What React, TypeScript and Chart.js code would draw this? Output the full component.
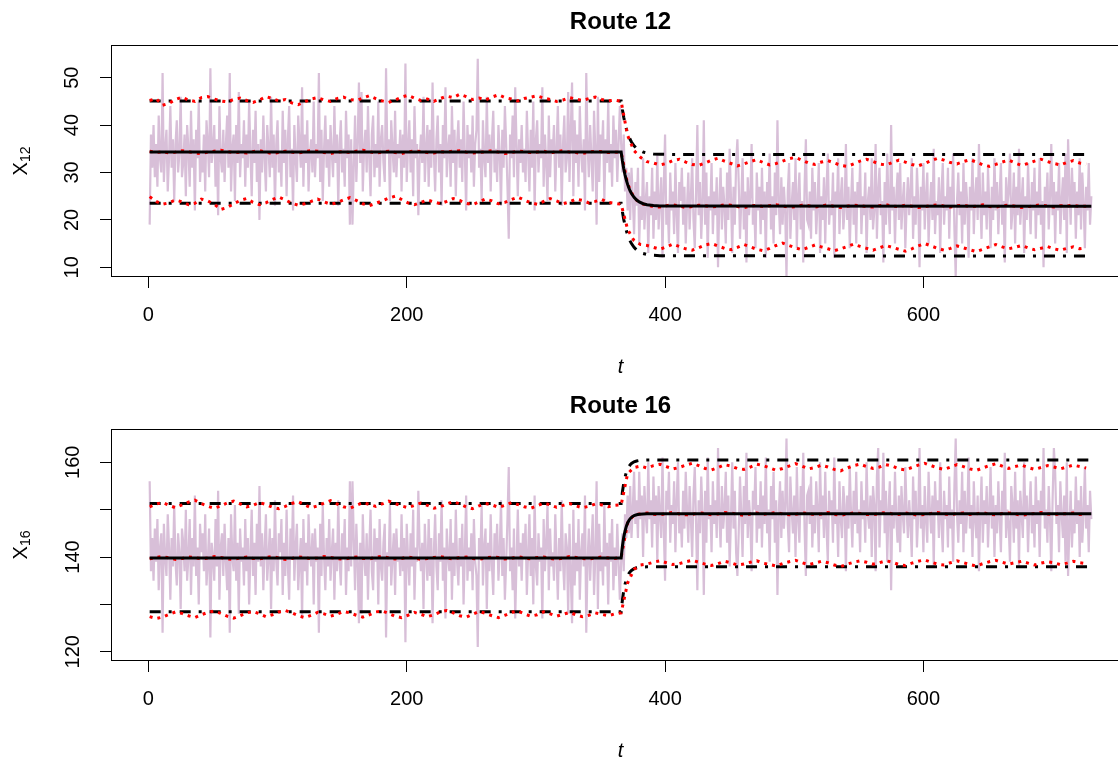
import React, { useEffect, useRef } from "react";
import { Chart, registerables } from "chart.js";

Chart.register(...registerables);

// ---------- axis / category data ----------
const days = Array.from({ length: 730 }, (_, i) => i + 1);
const sampleDays = Array.from({ length: 146 }, (_, i) => 1 + 5 * i);
const fitDays = [1, 366, 367, 368, 369, 370, 371, 372, 373, 374, 376, 378, 380, 383, 386, 391, 396, 406, 730];
const xTicks = [0, 200, 400, 600];
const route12YTicks = [10, 20, 30, 40, 50];
const route12YLabels = ["10", "20", "30", "40", "50"];
const route16YTicks = [120, 130, 140, 150, 160];
const route16YLabels = ["120", "", "140", "", "160"];

// ---------- Route 12 observations (t = 1..730) ----------
const route12Obs = [
  19, 38, 31, 40, 29, 36, 27, 42, 33, 30,
  51, 28, 35, 39, 26, 33, 44, 31, 37, 24,
  36, 41, 30, 34, 46, 29, 32, 38, 25, 40,
  35, 27, 43, 31, 37, 22, 39, 33, 45, 28,
  34, 30, 38, 26, 41, 36, 29, 52, 32, 35,
  40, 27, 37, 21, 44, 33, 30, 39, 28, 36,
  42, 31, 51, 26, 35, 38, 24, 40, 32, 47,
  29, 36, 33, 41, 27, 38, 31, 45, 34, 25,
  39, 32, 43, 28, 36, 20, 37, 30, 42, 33,
  26, 40, 35, 29, 46, 31, 38, 23, 36, 41,
  30, 34, 27, 43, 32, 39, 25, 37, 44, 29,
  35, 22, 40, 33, 28, 42, 36, 31, 48, 27,
  38, 32, 41, 26, 34, 37, 30, 45, 29, 36,
  33, 51, 28, 39, 24, 35, 42, 31, 37, 27,
  40, 34, 29, 44, 32, 38, 23, 36, 41, 30,
  35, 27, 43, 33, 38, 19, 37, 19, 31, 42,
  28, 36, 49, 32, 47, 26, 35, 39, 30, 44,
  33, 25, 38, 42, 29, 36, 31, 45, 27, 37,
  40, 32, 28, 52, 34, 37, 24, 41, 35, 30,
  43, 29, 36, 33, 39, 26, 38, 31, 53, 28,
  35, 41, 30, 37, 25, 44, 33, 36, 21, 33,
  38, 32, 46, 28, 35, 40, 27, 39, 31, 49,
  34, 26, 37, 42, 30, 36, 23, 40, 33, 48,
  29, 35, 38, 27, 44, 32, 39, 25, 36, 41,
  31, 37, 28, 45, 34, 22, 40, 33, 38, 30,
  42, 27, 36, 39, 54, 31, 35, 24, 41, 33,
  29, 46, 32, 38, 26, 37, 43, 30, 35, 28,
  40, 34, 23, 39, 31, 44, 36, 27, 16, 38,
  33, 42, 29, 48, 36, 25, 37, 32, 40, 30,
  35, 28, 43, 34, 26, 39, 31, 45, 22, 37,
  41, 30, 36, 33, 48, 27, 38, 32, 24, 42,
  29, 37, 34, 40, 26, 35, 44, 31, 38, 23,
  36, 42, 30, 33, 47, 28, 39, 49, 25, 41,
  32, 38, 27, 44, 34, 30, 37, 22, 51, 36,
  29, 40, 33, 26, 43, 35, 19, 46, 28, 38,
  34, 41, 24, 37, 32, 45, 30, 36, 27, 42,
  33, 39, 28, 36, 44,
  36, 30, 38, 26, 31, 22, 30, 20, 31, 25,
  17, 28, 23, 31, 15, 25, 20, 33, 18, 24,
  28, 13, 25, 21, 31, 16, 26, 20, 34, 18,
  24, 29, 12, 27, 38, 19, 23, 15, 30, 22,
  26, 17, 32, 21, 13, 28, 24, 31, 19, 27,
  15, 23, 30, 18, 25, 33, 20, 14, 26, 40,
  21, 28, 16, 24, 41, 19, 30, 12, 25, 22,
  32, 17, 26, 21, 29, 10, 24, 31, 18, 27,
  23, 15, 30, 20, 35, 25, 13, 27, 19, 32,
  37, 28, 16, 24, 33, 18, 26, 11, 29, 21,
  25, 36, 19, 23, 14, 30, 22, 27, 17, 31,
  20, 26, 12, 28, 23, 34, 18, 25, 15, 30,
  21, 41, 24, 17, 29, 19, 27, 22, 8, 26,
  32, 16, 23, 28, 20, 33, 14, 25, 30, 18,
  24, 11, 27, 37, 20, 19, 26, 16, 31, 22,
  28, 17, 23, 32, 13, 25, 20, 29, 15, 27,
  34, 19, 24, 21, 30, 12, 26, 23, 33, 17,
  25, 29, 18, 22, 36, 20, 27, 14, 24, 31,
  19, 26, 15, 28, 23, 32, 17, 25, 21, 30,
  13, 24, 27, 20, 33, 18, 22, 36, 16, 26,
  31, 21, 24, 11, 28, 19, 34, 23, 17, 40,
  22, 27, 15, 25, 30, 20, 32, 18, 24, 28,
  14, 23, 29, 21, 26, 33, 16, 25, 19, 31,
  24, 10, 27, 22, 32, 18, 25, 30, 15, 23,
  28, 20, 35, 17, 24, 21, 29, 13, 26, 32,
  19, 25, 22, 31, 16, 27, 23, 34, 18, 8,
  24, 30, 21, 26, 15, 32, 19, 28, 23, 12,
  27, 22, 33, 17, 25, 29, 20, 36, 24, 16,
  30, 21, 26, 18, 31, 23, 14, 27, 20, 33,
  22, 28, 17, 25, 32, 19, 24, 11, 29, 23,
  26, 34, 18, 22, 30, 15, 27, 21, 35, 19,
  24, 29, 13, 25, 20, 32, 23, 17, 28, 22,
  31, 16, 26, 21, 33, 19, 24, 10, 27, 23,
  30, 18, 25, 36, 21, 28, 15, 26, 22, 32,
  17, 24, 29, 20, 34, 13, 37, 27, 19, 31,
  23, 28, 16, 26, 21, 33, 18, 30, 24, 14,
  27, 22, 32, 19, 25,
];

// ---------- Route 16 observations (t = 1..730) ----------
const route16Obs = [
  156, 137, 144, 135, 146, 139, 148, 133, 142, 145,
  124, 147, 140, 136, 149, 142, 131, 144, 138, 151,
  139, 134, 145, 141, 129, 146, 143, 137, 150, 135,
  140, 148, 132, 144, 138, 153, 136, 142, 130, 147,
  141, 145, 137, 149, 134, 139, 146, 123, 143, 140,
  135, 148, 138, 154, 131, 142, 145, 136, 147, 139,
  133, 144, 124, 149, 140, 137, 151, 135, 143, 128,
  146, 139, 142, 134, 148, 137, 144, 130, 141, 150,
  136, 143, 132, 147, 139, 155, 138, 145, 133, 142,
  149, 135, 140, 146, 129, 144, 137, 152, 139, 134,
  145, 141, 148, 132, 143, 136, 150, 138, 131, 146,
  140, 153, 135, 142, 147, 133, 139, 144, 127, 148,
  137, 143, 134, 149, 141, 138, 145, 130, 146, 139,
  142, 124, 147, 136, 151, 140, 133, 144, 138, 148,
  135, 141, 146, 131, 143, 137, 152, 139, 134, 145,
  140, 148, 132, 142, 137, 156, 138, 156, 144, 133,
  147, 139, 126, 143, 128, 149, 140, 136, 145, 131,
  142, 150, 137, 133, 146, 139, 144, 130, 148, 138,
  135, 143, 147, 123, 141, 138, 151, 134, 140, 145,
  132, 146, 139, 142, 136, 149, 137, 144, 122, 147,
  140, 134, 145, 138, 150, 131, 142, 139, 154, 142,
  137, 143, 129, 147, 140, 135, 148, 136, 144, 126,
  141, 149, 138, 133, 145, 139, 152, 135, 142, 127,
  146, 140, 137, 148, 131, 143, 136, 150, 139, 134,
  144, 138, 147, 130, 141, 153, 135, 142, 137, 145,
  133, 148, 139, 136, 121, 144, 140, 151, 134, 142,
  146, 129, 143, 137, 149, 138, 132, 145, 140, 147,
  135, 141, 152, 136, 144, 131, 139, 148, 159, 137,
  142, 133, 146, 127, 139, 150, 138, 143, 135, 145,
  140, 147, 132, 141, 149, 136, 144, 130, 153, 138,
  134, 145, 139, 142, 127, 148, 137, 143, 151, 133,
  146, 138, 141, 135, 149, 140, 131, 144, 137, 152,
  139, 133, 145, 142, 128, 147, 136, 126, 150, 134,
  143, 137, 148, 131, 141, 145, 138, 153, 124, 139,
  146, 135, 142, 149, 132, 140, 156, 129, 147, 137,
  141, 134, 151, 138, 143, 130, 145, 139, 148, 133,
  142, 136, 147, 139, 131,
  139, 145, 137, 149, 144, 153, 145, 155, 144, 150,
  158, 147, 152, 144, 158, 148, 153, 140, 155, 149,
  145, 160, 148, 152, 142, 157, 147, 153, 139, 155,
  149, 144, 161, 146, 135, 154, 150, 158, 143, 151,
  147, 156, 141, 152, 160, 145, 149, 142, 154, 146,
  158, 150, 143, 155, 148, 140, 153, 159, 147, 133,
  152, 145, 157, 149, 132, 154, 143, 161, 148, 151,
  141, 156, 147, 152, 144, 163, 149, 142, 155, 146,
  150, 158, 143, 153, 138, 148, 160, 146, 154, 141,
  136, 145, 157, 149, 140, 155, 147, 162, 144, 152,
  148, 137, 154, 150, 159, 143, 151, 146, 156, 142,
  153, 147, 161, 145, 150, 139, 155, 148, 158, 143,
  152, 132, 149, 156, 144, 154, 146, 151, 165, 147,
  141, 157, 150, 145, 153, 140, 159, 148, 143, 155,
  149, 162, 146, 136, 153, 154, 147, 157, 142, 151,
  145, 156, 150, 141, 160, 148, 153, 144, 158, 146,
  139, 154, 149, 152, 143, 161, 147, 150, 140, 156,
  148, 144, 155, 151, 137, 153, 146, 159, 149, 142,
  154, 147, 158, 145, 150, 141, 156, 148, 152, 143,
  160, 149, 146, 153, 140, 155, 151, 137, 157, 163,
  142, 152, 149, 162, 145, 154, 139, 150, 156, 133,
  151, 146, 158, 148, 143, 153, 141, 155, 149, 145,
  159, 150, 144, 152, 147, 140, 157, 148, 154, 142,
  149, 163, 146, 151, 141, 155, 148, 143, 158, 150,
  145, 153, 138, 156, 149, 152, 144, 160, 147, 141,
  154, 148, 151, 142, 157, 146, 150, 139, 155, 165,
  149, 143, 152, 147, 158, 141, 154, 145, 150, 161,
  146, 151, 140, 156, 148, 144, 153, 137, 149, 157,
  143, 152, 147, 155, 142, 150, 159, 146, 153, 140,
  151, 145, 156, 148, 141, 154, 149, 162, 144, 150,
  147, 139, 155, 151, 143, 158, 146, 152, 138, 154,
  149, 144, 160, 148, 153, 141, 150, 156, 145, 151,
  142, 157, 147, 152, 140, 154, 149, 163, 146, 150,
  143, 155, 148, 137, 152, 163, 158, 147, 151, 141,
  156, 149, 144, 153, 139, 160, 136, 146, 154, 142,
  150, 145, 157, 147, 152, 140, 155, 143, 149, 159,
  146, 151, 141, 154, 148,
];

// ---------- fitted mean and bounds (black) ----------
const route12FitMean = [34.3, 34.3, 32.41, 30.82, 29.51, 28.41, 27.49, 26.73, 26.09, 25.57, 24.75, 24.19, 23.79, 23.41, 23.2, 23.02, 22.95, 22.91, 22.9];
const route12FitUpper = [45.1, 45.1, 43.22, 41.65, 40.35, 39.26, 38.35, 37.6, 36.96, 36.44, 35.63, 35.08, 34.68, 34.31, 34.09, 33.92, 33.85, 33.81, 33.8];
const route12FitLower = [23.5, 23.5, 21.66, 20.11, 18.84, 17.76, 16.87, 16.13, 15.51, 15.0, 14.2, 13.65, 13.27, 12.9, 12.69, 12.52, 12.45, 12.41, 12.4];
const route16FitMean = [139.8, 139.8, 142.31, 144.15, 145.48, 146.47, 147.19, 147.72, 148.1, 148.38, 148.74, 148.93, 149.03, 149.1, 149.13, 149.15, 149.15, 149.15, 149.15];
const route16FitUpper = [151.3, 151.3, 153.77, 155.58, 156.89, 157.86, 158.57, 159.09, 159.47, 159.75, 160.1, 160.28, 160.39, 160.45, 160.48, 160.5, 160.5, 160.5, 160.5];
const route16FitLower = [128.45, 128.45, 131.0, 132.87, 134.23, 135.22, 135.95, 136.5, 136.89, 137.17, 137.53, 137.73, 137.83, 137.9, 137.93, 137.95, 137.95, 137.95, 137.95];

// ---------- empirical quantiles / mean (red, every 5 days) ----------
const route12RedUpper = [
  45.2, 45.6, 44.2, 44.6, 45.4, 45.9, 45.3, 45.0, 45.8, 46.0,
  45.5, 45.1, 44.9, 45.4, 45.7, 45.2, 44.8, 45.3, 46.0, 45.6,
  45.1, 45.4, 44.7, 44.3, 44.9, 45.5, 45.8, 45.3, 45.0, 45.6,
  45.9, 45.4, 45.2, 45.7, 46.2, 45.6, 45.1, 44.8, 45.3, 45.9,
  46.3, 45.7, 45.2, 45.5, 45.0, 45.6, 46.1, 45.8, 46.5, 46.0,
  45.4, 45.7, 45.3, 45.9, 46.4, 45.8, 45.5, 45.1, 45.6, 45.9,
  46.2, 45.7, 45.4, 45.0, 45.3, 45.8, 45.5, 45.2, 45.6, 45.9,
  45.4, 45.1, 45.3,
  45.0, 37.8, 34.6, 33.2,
  32.3, 32.0, 31.6, 31.9, 32.5, 32.8, 32.2, 31.7, 31.5, 32.0,
  32.6, 33.0, 32.4, 31.9, 31.4, 31.8, 32.3, 32.7, 32.1, 31.6,
  31.9, 32.4, 32.9, 33.2, 32.6, 32.0, 31.7, 32.2, 32.5, 32.0,
  31.5, 31.3, 31.8, 32.4, 32.8, 32.3, 31.8, 31.6, 32.1, 32.6,
  32.2, 31.7, 31.4, 31.9, 32.5, 33.0, 32.6, 32.1, 31.8, 32.3,
  32.7, 32.2, 31.6, 31.3, 31.7, 32.2, 32.6, 32.0, 31.5, 31.9,
  32.4, 32.8, 32.3, 31.9, 31.6, 32.1, 32.5, 32.0, 31.8,
];
const route12RedMean = [
  34.5, 34.2, 34.4, 34.1, 34.3, 34.6, 34.4, 34.1, 34.0, 34.3,
  34.5, 34.7, 34.4, 34.2, 34.3, 34.1, 34.4, 34.6, 34.3, 34.0,
  34.2, 34.5, 34.3, 34.1, 34.4, 34.6, 34.5, 34.2, 34.0, 34.3,
  34.4, 34.2, 34.5, 34.7, 34.4, 34.1, 34.3, 34.5, 34.2, 34.0,
  34.3, 34.6, 34.4, 34.2, 34.1, 34.4, 34.3, 34.5, 34.6, 34.3,
  34.1, 34.2, 34.4, 34.6, 34.3, 34.0, 34.2, 34.5, 34.4, 34.2,
  34.3, 34.5, 34.1, 34.4, 34.6, 34.3, 34.2, 34.0, 34.3, 34.5,
  34.4, 34.2, 34.3,
  34.2, 27.6, 24.6, 23.5,
  23.1, 22.8, 22.7, 23.0, 23.2, 22.9, 22.6, 22.8, 23.1, 23.0,
  22.7, 22.9, 23.2, 23.1, 22.8, 22.6, 22.9, 23.1, 22.8, 23.0,
  23.2, 22.9, 22.7, 22.8, 23.1, 23.0, 22.7, 22.9, 23.2, 22.8,
  22.6, 22.9, 23.1, 23.0, 22.8, 22.7, 23.0, 23.2, 22.9, 22.8,
  23.1, 22.9, 22.6, 22.8, 23.0, 23.2, 22.9, 22.7, 23.0, 23.1,
  22.8, 22.9, 23.2, 22.8, 22.7, 23.0, 23.1, 22.9, 22.6, 22.8,
  23.0, 23.2, 22.9, 22.7, 23.0, 22.9, 23.1, 22.8, 22.9,
];
const route12RedLower = [
  24.9, 23.9, 23.3, 23.6, 24.2, 23.8, 23.2, 23.5, 24.4, 24.0,
  23.3, 22.2, 22.6, 23.4, 24.1, 24.5, 23.7, 23.2, 23.6, 24.3,
  24.8, 24.2, 23.5, 23.1, 23.4, 23.9, 24.4, 23.8, 23.3, 23.6,
  24.2, 24.7, 24.1, 23.4, 23.0, 23.5, 24.0, 24.6, 25.0, 24.3,
  23.6, 23.2, 23.7, 24.2, 23.8, 23.4, 23.9, 24.5, 24.1, 23.5,
  23.2, 23.8, 24.4, 24.0, 23.4, 23.7, 24.3, 24.8, 24.2, 23.6,
  23.3, 23.9, 24.5, 24.0, 23.4, 23.8, 24.4, 24.1, 23.6, 23.9,
  24.3, 23.7, 23.5,
  23.3, 18.0, 15.6, 14.8,
  14.6, 14.2, 13.8, 14.3, 14.9, 14.4, 13.9, 13.6, 14.1, 14.7,
  15.0, 14.5, 14.0, 13.7, 14.2, 14.8, 14.3, 13.8, 13.5, 14.0,
  14.6, 15.1, 14.6, 14.1, 13.7, 14.2, 14.7, 14.3, 13.9, 13.5,
  13.9, 14.4, 14.9, 14.4, 14.0, 13.6, 14.1, 14.6, 14.2, 13.8,
  13.4, 13.9, 14.5, 15.0, 14.5, 14.0, 13.6, 14.0, 14.5, 14.1,
  13.7, 13.3, 13.8, 14.3, 14.8, 14.3, 13.9, 14.2, 14.6, 14.1,
  13.7, 14.0, 14.4, 13.9, 13.6, 14.0, 14.3, 13.9, 14.1,
];
const route16RedUpper = [
  150.6, 151.2, 151.5, 150.9, 150.4, 151.0, 151.6, 152.0, 151.3, 150.7,
  150.3, 150.8, 151.4, 151.8, 151.2, 150.6, 150.9, 151.5, 151.1, 150.5,
  150.2, 150.7, 151.3, 151.7, 151.0, 150.4, 150.8, 151.4, 151.9, 151.2,
  150.6, 150.3, 150.9, 151.5, 151.1, 150.7, 151.2, 151.8, 151.3, 150.8,
  150.4, 150.9, 151.4, 150.9, 150.3, 150.6, 151.2, 151.7, 151.2, 150.6,
  150.2, 150.8, 151.3, 151.0, 150.5, 150.9, 151.5, 151.1, 150.6, 150.3,
  150.8, 151.4, 151.0, 150.5, 150.9, 151.3, 150.8, 150.4, 150.7, 151.2,
  151.0, 150.6, 150.9,
  151.0, 157.6, 158.9, 159.2,
  158.8, 159.3, 159.6, 159.1, 158.6, 158.9, 159.4, 159.8, 159.3, 158.7,
  158.4, 158.9, 159.5, 159.2, 158.7, 158.5, 159.0, 159.6, 159.3, 158.8,
  158.3, 158.7, 159.2, 159.7, 159.2, 158.6, 158.9, 159.4, 159.0, 158.5,
  158.2, 158.8, 159.3, 159.6, 159.1, 158.7, 159.0, 159.5, 159.2, 158.6,
  158.4, 158.9, 159.4, 159.8, 159.3, 158.8, 158.5, 159.0, 159.5, 159.1,
  158.6, 158.3, 158.8, 159.3, 159.7, 159.2, 158.7, 159.1, 159.4, 158.9,
  158.5, 158.9, 159.3, 159.0, 158.6, 159.0, 159.4, 159.1, 158.8,
];
const route16RedMean = [
  139.6, 139.9, 140.1, 139.8, 139.5, 139.7, 140.0, 139.9, 139.6, 139.8,
  140.1, 139.9, 139.6, 139.5, 139.8, 140.0, 139.7, 139.6, 139.9, 140.1,
  139.8, 139.5, 139.7, 140.0, 139.9, 139.6, 139.8, 140.1, 139.9, 139.7,
  139.5, 139.8, 140.0, 139.7, 139.6, 139.9, 140.2, 139.8, 139.6, 139.7,
  140.0, 139.8, 139.5, 139.7, 139.9, 140.1, 139.8, 139.6, 139.9, 140.0,
  139.7, 139.5, 139.8, 140.0, 139.9, 139.6, 139.7, 140.1, 139.8, 139.6,
  139.9, 140.0, 139.7, 139.5, 139.8, 140.1, 139.9, 139.7, 139.6, 139.8,
  140.0, 139.8, 139.7,
  139.9, 147.2, 148.9, 149.1,
  149.3, 149.0, 148.9, 149.2, 149.4, 149.1, 148.9, 149.0, 149.3, 149.2,
  148.9, 149.1, 149.4, 149.3, 149.0, 148.8, 149.1, 149.3, 149.0, 149.2,
  149.4, 149.1, 148.9, 149.0, 149.3, 149.2, 148.9, 149.1, 149.4, 149.0,
  148.8, 149.1, 149.3, 149.2, 149.0, 148.9, 149.2, 149.4, 149.1, 149.0,
  149.3, 149.1, 148.8, 149.0, 149.2, 149.4, 149.1, 148.9, 149.2, 149.3,
  149.0, 149.1, 149.4, 149.0, 148.9, 149.2, 149.3, 149.1, 148.8, 149.0,
  149.2, 149.4, 149.1, 148.9, 149.2, 149.1, 149.3, 149.0, 149.1,
];
const route16RedLower = [
  127.4, 127.0, 127.3, 127.9, 128.4, 128.1, 127.6, 127.2, 127.8, 128.3,
  128.6, 128.1, 127.5, 127.1, 127.6, 128.2, 128.5, 128.0, 127.4, 127.8,
  128.4, 128.7, 128.2, 127.6, 127.2, 127.7, 128.3, 128.0, 127.5, 127.9,
  128.5, 128.2, 127.7, 127.3, 127.8, 128.4, 128.6, 128.1, 127.5, 127.2,
  127.7, 128.3, 127.9, 127.4, 127.8, 128.4, 128.7, 128.2, 127.6, 127.3,
  127.9, 128.5, 128.1, 127.6, 127.2, 127.7, 128.3, 128.6, 128.0, 127.5,
  127.8, 128.4, 128.0, 127.5, 127.9, 128.3, 127.8, 127.4, 127.7, 128.2,
  127.9, 127.6, 128.0,
  128.2, 134.5, 137.4, 138.3,
  138.5, 138.9, 139.2, 138.8, 138.4, 138.6, 139.0, 139.3, 138.9, 138.5,
  138.2, 138.6, 139.1, 138.8, 138.3, 138.5, 138.9, 139.2, 138.7, 138.4,
  138.1, 138.6, 139.0, 139.3, 138.8, 138.4, 138.7, 139.1, 138.8, 138.3,
  138.0, 138.5, 138.9, 139.2, 138.9, 138.5, 138.8, 139.2, 138.9, 138.4,
  138.2, 138.7, 139.1, 139.4, 138.9, 138.5, 138.3, 138.8, 139.2, 138.8,
  138.4, 138.1, 138.6, 139.0, 139.3, 138.9, 138.5, 138.8, 139.1, 138.7,
  138.3, 138.7, 139.0, 138.8, 138.4, 138.7, 139.1, 138.8, 138.6,
];

const FONT = '"Liberation Sans", Arial, Helvetica, sans-serif';
const CANVAS_W = 1140;
const CANVAS_H = 374;

type PanelProps = {
  top: number;
  title: string;
  sub: string;
  obs: number[];
  fitMean: number[];
  fitUpper: number[];
  fitLower: number[];
  redUpper: number[];
  redMean: number[];
  redLower: number[];
  yMin: number;
  yMax: number;
  yTicks: number[];
  yLabels: string[];
  yPad: number;
};

function pts(xs: number[], ys: number[]) {
  return ys.map((y, i) => ({ x: xs[i], y }));
}

function Panel(p: PanelProps) {
  const ref = useRef<HTMLCanvasElement | null>(null);
  useEffect(() => {
    if (!ref.current) return;
    const textPlugin = {
      id: "panelText",
      afterDraw(chart: any) {
        const { ctx, chartArea: a } = chart;
        ctx.save();
        ctx.strokeStyle = "#000";
        ctx.lineWidth = 1;
        ctx.strokeRect(a.left - 0.5, a.top - 0.5, a.right - a.left + 1, a.bottom - a.top + 1);
        const cx = (a.left + a.right) / 2;
        ctx.fillStyle = "#000";
        ctx.textAlign = "center";
        ctx.textBaseline = "alphabetic";
        ctx.font = `bold 24px ${FONT}`;
        ctx.fillText(p.title, cx, 29);
        ctx.font = `italic 20px ${FONT}`;
        ctx.fillText("t", cx, 373);
        ctx.translate(27, (a.top + a.bottom) / 2);
        ctx.rotate(-Math.PI / 2);
        ctx.textAlign = "left";
        ctx.font = `20px ${FONT}`;
        const wX = ctx.measureText("X").width;
        ctx.font = `14px ${FONT}`;
        const wS = ctx.measureText(p.sub).width;
        const start = -(wX + wS) / 2;
        ctx.font = `20px ${FONT}`;
        ctx.fillText("X", start, 0);
        ctx.font = `14px ${FONT}`;
        ctx.fillText(p.sub, start + wX, 3);
        ctx.restore();
      },
    };

    const chart = new Chart(ref.current, {
      type: "line",
      data: {
        datasets: [
          { data: pts(days, p.obs), borderColor: "#D8BFD8", borderWidth: 2.2, order: 10 },
          { data: pts(sampleDays, p.redMean), borderColor: "#FF0000", borderWidth: 3, borderDash: [3, 5], order: 5 },
          { data: pts(fitDays, p.fitUpper), borderColor: "#000000", borderWidth: 3, borderDash: [11, 8, 3, 8], order: 2 },
          { data: pts(fitDays, p.fitLower), borderColor: "#000000", borderWidth: 3, borderDash: [11, 8, 3, 8], order: 2 },
          { data: pts(fitDays, p.fitMean), borderColor: "#000000", borderWidth: 3, order: 2 },
          { data: pts(sampleDays, p.redUpper), borderColor: "#FF0000", borderWidth: 3, borderDash: [3, 5], order: 0 },
          { data: pts(sampleDays, p.redLower), borderColor: "#FF0000", borderWidth: 3, borderDash: [3, 5], order: 0 },
        ] as any,
      },
      options: {
        animation: false,
        responsive: false,
        devicePixelRatio: 1,
        events: [],
        layout: { padding: { top: 46, right: CANVAS_W - 1129, left: 0, bottom: 0 } },
        elements: { point: { radius: 0 }, line: { tension: 0, fill: false } },
        plugins: { legend: { display: false }, tooltip: { enabled: false }, title: { display: false } },
        scales: {
          x: {
            type: "linear",
            min: -28.16,
            max: 759.16,
            afterBuildTicks: (s: any) => {
              s.ticks = xTicks.map((v) => ({ value: v }));
            },
            afterFit: (s: any) => {
              s.height = 98;
            },
            grid: { display: true, drawOnChartArea: false, drawTicks: true, tickLength: 12, color: "#000", lineWidth: 1 },
            border: { display: false },
            ticks: {
              autoSkip: false,
              maxRotation: 0,
              padding: 15,
              color: "#000",
              font: { family: FONT, size: 20 },
              callback: (v: any) => String(v),
            },
          },
          y: {
            type: "linear",
            min: p.yMin,
            max: p.yMax,
            afterBuildTicks: (s: any) => {
              s.ticks = p.yTicks.map((v) => ({ value: v }));
            },
            afterFit: (s: any) => {
              s.width = 112;
            },
            grid: { display: true, drawOnChartArea: false, drawTicks: true, tickLength: 12, color: "#000", lineWidth: 1 },
            border: { display: false },
            ticks: {
              autoSkip: false,
              minRotation: 90,
              maxRotation: 90,
              crossAlign: "center",
              padding: p.yPad,
              color: "#000",
              font: { family: FONT, size: 20 },
              callback: (_v: any, i: number) => p.yLabels[i],
            },
          },
        },
      } as any,
      plugins: [textPlugin],
    });
    return () => chart.destroy();
  }, []);
  return (
    <canvas
      ref={ref}
      width={CANVAS_W}
      height={CANVAS_H}
      style={{ position: "absolute", left: 0, top: p.top, width: CANVAS_W, height: CANVAS_H }}
    />
  );
}

export default function App() {
  return (
    <div
      style={{
        position: "absolute",
        left: 0,
        top: 0,
        width: 1118,
        height: 758,
        overflow: "hidden",
        background: "#fff",
      }}
    >
      <Panel
        top={0}
        title="Route 12"
        sub="12"
        obs={route12Obs}
        fitMean={route12FitMean}
        fitUpper={route12FitUpper}
        fitLower={route12FitLower}
        redUpper={route12RedUpper}
        redMean={route12RedMean}
        redLower={route12RedLower}
        yMin={8.16}
        yMax={56.69}
        yTicks={route12YTicks}
        yLabels={route12YLabels}
        yPad={16.4}
      />
      <Panel
        top={384}
        title="Route 16"
        sub="16"
        obs={route16Obs}
        fitMean={route16FitMean}
        fitUpper={route16FitUpper}
        fitLower={route16FitLower}
        redUpper={route16RedUpper}
        redMean={route16RedMean}
        redLower={route16RedLower}
        yMin={118.25}
        yMax={166.82}
        yTicks={route16YTicks}
        yLabels={route16YLabels}
        yPad={10.3}
      />
    </div>
  );
}
